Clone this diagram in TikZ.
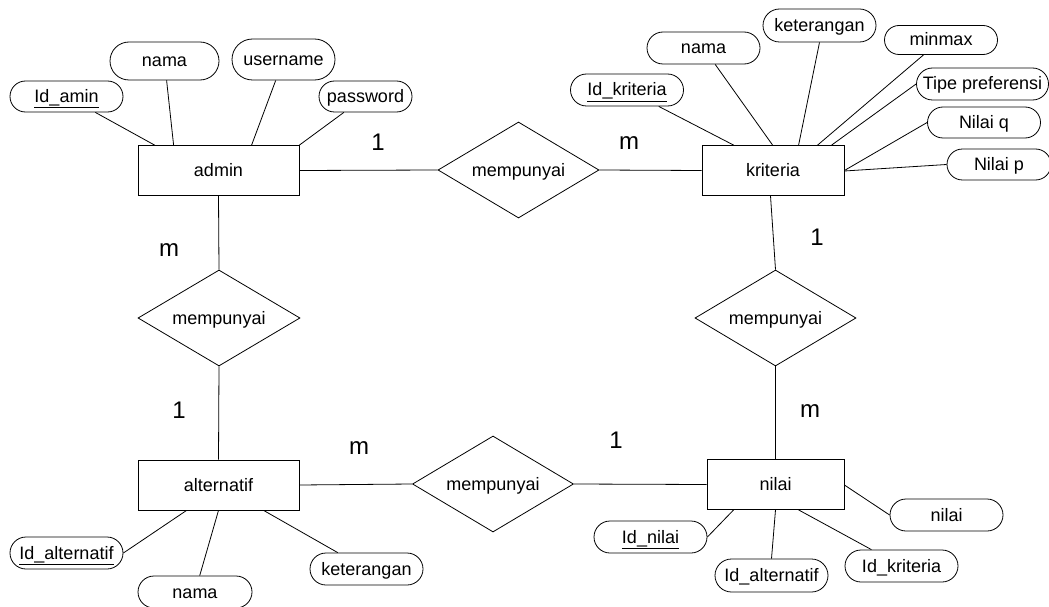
\documentclass[tikz,border=0pt]{standalone}
\usepackage{fontspec}
\setmainfont{Liberation Sans}
\usetikzlibrary{shapes.geometric,shapes.misc}
\begin{document}
\begin{tikzpicture}[x=1pt,y=-1pt,line width=0.8pt,
  lbl/.style={font=\fontsize{18}{21}\selectfont,text height=14pt,text depth=2pt},
  ent/.style={lbl,draw,rectangle,inner sep=0pt,minimum width=161pt,minimum height=50pt},
  rel/.style={lbl,draw,diamond,aspect=1.68,inner sep=0pt,minimum width=161pt,minimum height=96pt},
  attr/.style={lbl,draw,rounded rectangle,inner sep=0pt,minimum width=113pt,minimum height=32pt},
  card/.style={font=\fontsize{24}{28}\selectfont,inner sep=0pt}]
\useasboundingbox (0,0) rectangle (1049,607);

% entities
\node[ent] (admin) at (218.5,170.5) {admin};
\node[ent,minimum width=142pt] (kriteria) at (773,170.5) {kriteria};
\node[ent] (alternatif) at (218.5,485) {alternatif};
\node[ent,minimum width=137pt] (nilai) at (775.5,484.5) {nilai};

% relationships
\node[rel] (r1) at (518.5,170) {mempunyai};
\node[rel,minimum width=162pt] (r2) at (219,318) {mempunyai};
\node[rel] (r3) at (493,484) {mempunyai};
\node[rel] (r4) at (775.5,318) {mempunyai};

% admin attributes
\node[attr,minimum height=31pt] (a1) at (66.5,96.5) {\underline{Id\_amin}};
\node[attr,minimum width=109pt,minimum height=38pt] (a2) at (164.5,61) {nama};
\node[attr,minimum width=103pt,minimum height=41pt] (a3) at (283.5,59.5) {username};
\node[attr,minimum width=93pt,minimum height=31pt] (a4) at (365.5,96.5) {password};

% kriteria attributes
\node[attr] (k1) at (627,90) {\underline{Id\_kriteria}};
\node[attr] (k2) at (703.5,48) {nama};
\node[attr,minimum height=33pt] (k3) at (819.5,25.5) {keterangan};
\node[attr,minimum height=29pt] (k4) at (941,40) {minmax};
\node[attr,minimum width=132pt] (k5) at (982.5,84) {Tipe preferensi};
\node[attr,minimum height=31pt] (k6) at (984,122.5) {Nilai q};
\node[attr,minimum width=104pt,minimum height=31pt] (k7) at (999,164.5) {Nilai p};

% alternatif attributes
\node[attr] (l1) at (66.5,553) {\underline{Id\_alternatif}};
\node[attr,minimum width=114pt] (l2) at (195,592) {nama};
\node[attr] (l3) at (366.5,569) {keterangan};

% nilai attributes
\node[attr] (n1) at (946.5,515) {nilai};
\node[attr] (n2) at (650.5,537) {\underline{Id\_nilai}};
\node[attr,minimum height=33pt] (n3) at (771.5,575.5) {Id\_alternatif};
\node[attr] (n4) at (901.5,566) {Id\_kriteria};

% relationship connectors
\draw (admin.east) -- (r1.west);
\draw (r1.east) -- (kriteria.west);
\draw (admin.south) -- (r2.north);
\draw (r2.south) -- (alternatif.north);
\draw (alternatif.east) -- (r3.west);
\draw (r3.east) -- (nilai.west);
\draw ([xshift=-2.5pt]kriteria.south) -- (r4.north);
\draw (r4.south) -- (nilai.north);

% admin attribute connectors
\draw (a1) -- ([xshift=17pt]admin.north west);
\draw (a2) -- ([xshift=36pt]admin.north west);
\draw (a3) -- ([xshift=114pt]admin.north west);
\draw (a4) -- (admin.north east);

% kriteria attribute connectors
\draw (k1) -- ([xshift=32pt]kriteria.north west);
\draw (k2) -- ([xshift=71pt]kriteria.north west);
\draw (k3.south) -- ([xshift=97pt]kriteria.north west);
\draw (k4) -- ([xshift=116pt]kriteria.north west);
\draw (k5.west) -- ([xshift=130pt]kriteria.north west);
\draw (k6.west) -- ([yshift=0pt]kriteria.east);
\draw (k7.west) -- ([yshift=-0.5pt]kriteria.east);

% alternatif attribute connectors
\draw (l1.east) -- ([xshift=49pt]alternatif.south west);
\draw (l2) -- (alternatif.south);
\draw (l3) -- ([xshift=126pt]alternatif.south west);

% nilai attribute connectors
\draw (n1.west) -- ([yshift=-0.5pt]nilai.east);
\draw (n2.east) -- ([xshift=27pt]nilai.south west);
\draw (n3.north) -- (nilai.south);
\draw (n4) -- ([xshift=92pt]nilai.south west);

% cardinalities
\node[card] (c1) at (378,142) {1};
\node[card] (c2) at (629,143) {m};
\node[card] (c3) at (169,250) {m};
\node[card] (c4) at (179,410) {1};
\node[card] (c5) at (817,237) {1};
\node[card] (c6) at (810,411) {m};
\node[card] (c7) at (359,448) {m};
\node[card] (c8) at (616,440) {1};
\end{tikzpicture}
\end{document}
